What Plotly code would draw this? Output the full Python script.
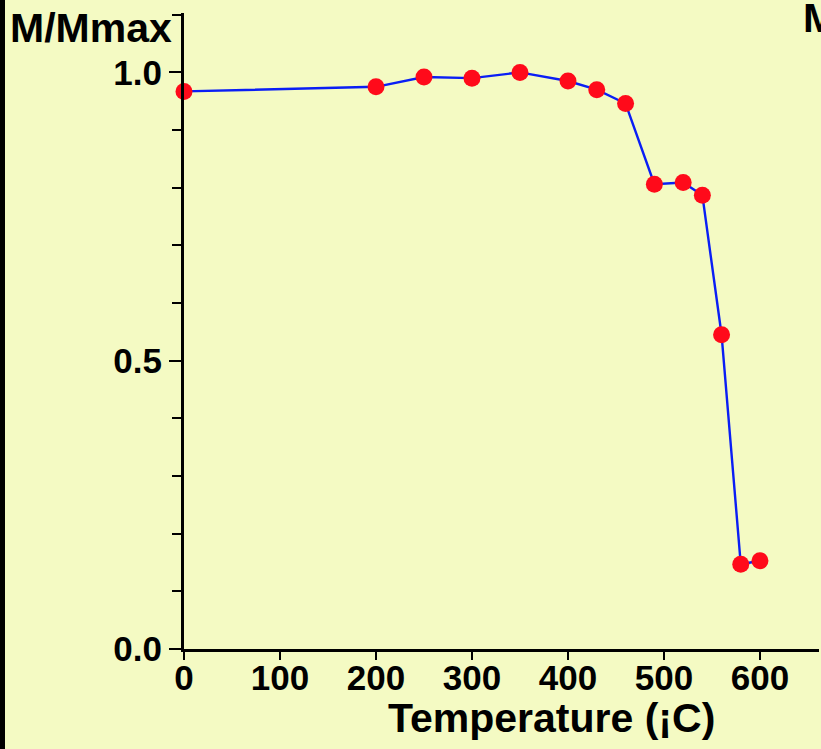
import plotly.graph_objects as go

# Normalised magnetisation versus heating temperature
temperature = [0, 200, 250, 300, 350, 400, 430, 460, 490, 520, 540, 560, 580, 600]
m_over_mmax = [0.967, 0.975, 0.992, 0.990, 1.000, 0.985, 0.970, 0.946,
               0.806, 0.809, 0.787, 0.545, 0.147, 0.153]

x_ticks = [0, 100, 200, 300, 400, 500, 600]
y_ticks = [0.0, 0.5, 1.0]

BG = "#F4FAC3"
FONT = "Liberation Sans, Arial, Helvetica, sans-serif"

W, H = 821, 749
ML, MR, MT, MB = 184, 2, 13, 100

fig = go.Figure()
fig.add_trace(go.Scatter(
    x=temperature, y=m_over_mmax,
    mode="lines+markers",
    line=dict(color="#0A1EF5", width=2.4),
    marker=dict(color="#FF0A1A", size=17, line=dict(width=0)),
    cliponaxis=False,
    showlegend=False,
))

fig.update_layout(
    width=W, height=H,
    margin=dict(l=ML, r=MR, t=MT, b=MB, pad=0),
    paper_bgcolor=BG, plot_bgcolor=BG,
    font=dict(family=FONT, color="black", size=34, weight="bold"),
)

fig.update_xaxes(
    range=[0, 661.5],
    tickvals=x_ticks,
    ticks="outside", ticklen=8, tickwidth=2, tickcolor="black",
    ticklabelstandoff=-12,
    showline=True, linewidth=3, linecolor="black",
    showgrid=False, zeroline=False,
    tickfont=dict(size=35, family=FONT, weight="bold"),
)
fig.update_yaxes(
    range=[0, 1.103],
    tickvals=y_ticks, tickformat=".1f",
    ticks="outside", ticklen=12, tickwidth=2, tickcolor="black",
    minor=dict(dtick=0.1, ticks="outside", ticklen=9, tickwidth=2, tickcolor="black"),
    showline=True, linewidth=3, linecolor="black",
    showgrid=False, zeroline=False,
    tickfont=dict(size=35, family=FONT, weight="bold"),
)

pw = W - ML - MR
ph = H - MT - MB

# Dark strip along the left edge of the page
fig.add_shape(type="rect", xref="paper", yref="paper",
              x0=-ML / pw, x1=(5 - ML) / pw, y0=-MB / ph, y1=1 + MT / ph,
              fillcolor="black", line=dict(width=0), layer="above")

fig.add_annotation(text="M/Mmax", xref="paper", yref="paper",
                   x=(8 - ML) / pw, y=1 + (MT - 53) / ph,
                   xanchor="left", yanchor="bottom", showarrow=False,
                   font=dict(size=41, family=FONT, weight="bold"))
fig.add_annotation(text="Temperature (¡C)", xref="paper", yref="paper",
                   x=(551 - ML) / pw, y=-(743 - MT - ph) / ph,
                   xanchor="center", yanchor="bottom", showarrow=False,
                   font=dict(size=41, family=FONT, weight="bold"))
fig.add_annotation(text="M", xref="paper", yref="paper",
                   x=(801 - ML) / pw, y=1 + (MT - 43) / ph,
                   xanchor="left", yanchor="bottom", showarrow=False,
                   font=dict(size=41, family=FONT, weight="bold"))

fig.write_html("out.html")
